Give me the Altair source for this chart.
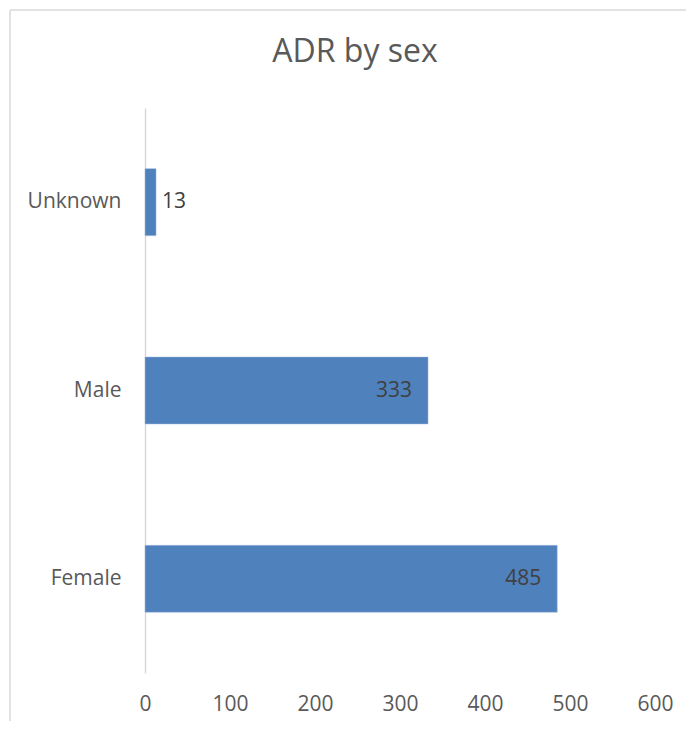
import altair as alt
import pandas as pd

categories = ["Unknown", "Male", "Female"]
values = [13, 333, 485]

df = pd.DataFrame({"sex": categories, "count": values})

FONT = "Open Sans"

y_enc = alt.Y("sex:N", sort=categories, title=None,
              scale=alt.Scale(paddingInner=0.644, paddingOuter=0.322),
              axis=alt.Axis(domain=True, domainColor="#d9d9d9", domainWidth=1.5,
                            ticks=False, grid=False, labelFontSize=21,
                            labelColor="#595959", labelFont=FONT, labelPadding=24))
x_enc = alt.X("count:Q", title=None,
              scale=alt.Scale(domain=[0, 600], nice=False),
              axis=alt.Axis(values=[0, 100, 200, 300, 400, 500, 600], domain=False,
                            ticks=False, grid=False, labelFontSize=21, labelFlush=False,
                            labelColor="#595959", labelFont=FONT, labelPadding=20))

base = alt.Chart(df)

top_line = base.mark_rule(color="#d9d9d9", strokeWidth=1.5).encode(
    x=alt.value(-135), x2=alt.value(541), y=alt.value(-98)
).transform_filter("datum.sex == 'Unknown'")

left_line = base.mark_rule(color="#d9d9d9", strokeWidth=1.5).encode(
    x=alt.value(-135), y=alt.value(-98), y2=alt.value(613)
).transform_filter("datum.sex == 'Unknown'")

bars = base.mark_bar(color="#4F81BD", stroke="#a9c1e0", strokeWidth=0.5).encode(
    x=x_enc, y=y_enc
)

inside = base.mark_text(align="right", baseline="middle", dx=-16,
                        fontSize=21, font=FONT, color="#404040").encode(
    x="count:Q", y=alt.Y("sex:N", sort=categories), text="count:Q"
).transform_filter("datum.count >= 50")

outside = base.mark_text(align="left", baseline="middle", dx=6,
                         fontSize=21, font=FONT, color="#404040").encode(
    x="count:Q", y=alt.Y("sex:N", sort=categories), text="count:Q"
).transform_filter("datum.count < 50")

chart = alt.layer(top_line, left_line, bars, inside, outside).properties(
    width=510, height=565,
    background="white",
    title=alt.TitleParams("ADR by sex", fontSize=32, font=FONT, fontWeight="normal",
                          color="#595959", anchor="middle", dx=-45, dy=96, offset=36),
    autosize=alt.AutoSizeParams(type="none"),
    padding={"left": 137, "top": 100, "right": 31, "bottom": 48},
).configure_view(strokeWidth=0, stroke="transparent")

chart.save("out.html", embed_options={"renderer": "svg", "actions": False})
